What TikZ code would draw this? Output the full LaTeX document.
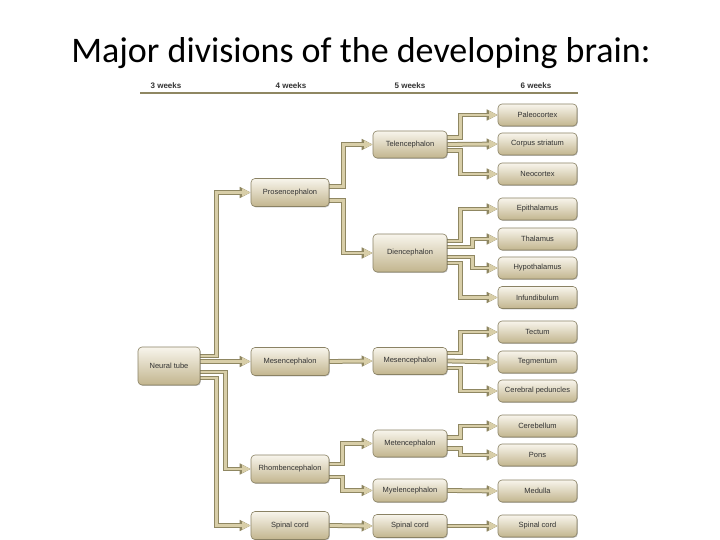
\documentclass[tikz,border=0pt]{standalone}
\usepackage{fontspec}
\setmainfont{Carlito}
\newfontfamily\boxfont{Liberation Sans}
\usetikzlibrary{arrows.meta,shadows,backgrounds}
\definecolor{bedge}{HTML}{8A8264}
\definecolor{btop}{HTML}{F8F5EC}
\definecolor{bbot}{HTML}{C2B58E}
\definecolor{cout}{HTML}{8F8762}
\definecolor{cin}{HTML}{D8CEA8}
\definecolor{txt}{HTML}{333333}
\begin{document}
\begin{tikzpicture}[x=1pt,y=-1pt,
  bx/.style={rectangle, rounded corners=4pt, draw=bedge, line width=0.6pt,
    top color=btop, bottom color=bbot, inner sep=0pt,
    font=\boxfont\fontsize{7.5}{8}\selectfont, text=txt,
    drop shadow={shadow xshift=0.8pt, shadow yshift=-0.8pt, fill=black, opacity=0.25}},
  c3/.style={bx, minimum width=62pt, minimum height=38pt},
  c4/.style={bx, minimum width=78pt, minimum height=28pt},
  c5/.style={bx, minimum width=74pt, minimum height=27pt},
  c6/.style={bx, minimum width=79pt, minimum height=22pt},
  hdr/.style={font=\boxfont\bfseries\fontsize{8}{9}\selectfont, text=txt},
  conn/.style={line width=2.8pt, draw=cin, line join=miter,
    -{Triangle[length=8.5pt,width=7.5pt]},
    preaction={draw=cout, line width=4.8pt, line join=miter,
      -{Triangle[length=11pt,width=10.5pt]}}}
]
\useasboundingbox (0,0) rectangle (720,540);

\node[font=\fontsize{36}{40}\selectfont, anchor=base] (title) at (361,63) {Major divisions of the developing brain:};

\node[hdr] (w3) at (166,86) {3 weeks};
\node[hdr] (w4) at (291,86) {4 weeks};
\node[hdr] (w5) at (410,86) {5 weeks};
\node[hdr] (w6) at (536,86) {6 weeks};
\coordinate (rl) at (140,93);
\coordinate (rr) at (578,93);
\draw[cout, line width=1.3pt] (rl) -- (rr);

% column 3
\node[c3] (nt) at (169,366) {Neural tube};
% column 4
\node[c4] (pros) at (290,192.5) {Prosencephalon};
\node[c4] (mes4) at (290,361.5) {Mesencephalon};
\node[c4] (rhomb) at (290,469) {Rhombencephalon};
\node[c4] (sc4) at (290,525.5) {Spinal cord};
% column 5
\node[c5] (tel) at (410,144.5) {Telencephalon};
\node[c5, minimum height=38pt] (dien) at (410,253) {Diencephalon};
\node[c5] (mes5) at (410,361) {Mesencephalon};
\node[c5] (met) at (410,443.5) {Metencephalon};
\node[c5, minimum height=23pt] (myel) at (410,490.5) {Myelencephalon};
\node[c5, minimum height=23pt] (sc5) at (410,526) {Spinal cord};
% column 6
\node[c6] (paleo) at (537.5,115) {Paleocortex};
\node[c6] (corp) at (537.5,144) {Corpus striatum};
\node[c6] (neo) at (537.5,174) {Neocortex};
\node[c6] (epi) at (537.5,209) {Epithalamus};
\node[c6] (thal) at (537.5,239) {Thalamus};
\node[c6] (hypo) at (537.5,268) {Hypothalamus};
\node[c6] (inf) at (537.5,297.5) {Infundibulum};
\node[c6] (tect) at (537.5,332) {Tectum};
\node[c6] (tegm) at (537.5,362) {Tegmentum};
\node[c6] (cped) at (537.5,391) {Cerebral peduncles};
\node[c6] (cbl) at (537.5,426) {Cerebellum};
\node[c6] (pons) at (537.5,455) {Pons};
\node[c6] (med) at (537.5,491) {Medulla};
\node[c6] (sc6) at (537.5,526) {Spinal cord};

\begin{scope}[on background layer]
\fill[white] (0,0) rectangle (720,540);
\draw[conn] ([yshift=10pt]nt.east) -- ++(16,0) |- (pros.west);
\draw[conn] (nt.east |- mes4.west) -- (mes4.west);
\draw[conn] ([yshift=-6pt]nt.east) -- ++(25,0) |- (rhomb.west);
\draw[conn] ([yshift=-12pt]nt.east) -- ++(16,0) |- (sc4.west);

\draw[conn] ([yshift=6pt]pros.east) -- ++(14,0) |- (tel.west);
\draw[conn] ([yshift=-8pt]pros.east) -- ++(14,0) |- (dien.west);
\draw[conn] (mes4.east) -- (mes5.west);
\draw[conn] ([yshift=5pt]rhomb.east) -- ++(13,0) |- (met.west);
\draw[conn] ([yshift=-8pt]rhomb.east) -- ++(13,0) |- (myel.west);
\draw[conn] (sc4.east) -- (sc5.west);

\draw[conn] ([yshift=7pt]tel.east) -- ++(13,0) |- (paleo.west);
\draw[conn] (tel.east) -- (corp.west);
\draw[conn] ([yshift=-6pt]tel.east) -- ++(13,0) |- (neo.west);
\draw[conn] ([yshift=12pt]dien.east) -- ++(13,0) |- (epi.west);
\draw[conn] ([yshift=6pt]dien.east) -- ++(25,0) |- (thal.west);
\draw[conn] ([yshift=-4pt]dien.east) -- ++(25,0) |- (hypo.west);
\draw[conn] ([yshift=-10pt]dien.east) -- ++(13,0) |- (inf.west);
\draw[conn] ([yshift=8pt]mes5.east) -- ++(13,0) |- (tect.west);
\draw[conn] (mes5.east) -- (tegm.west);
\draw[conn] ([yshift=-7pt]mes5.east) -- ++(13,0) |- (cped.west);
\draw[conn] ([yshift=6pt]met.east) -- ++(13,0) |- (cbl.west);
\draw[conn] ([yshift=-5pt]met.east) -- ++(13,0) |- (pons.west);
\draw[conn] (myel.east) -- (med.west);
\draw[conn] (sc5.east) -- (sc6.west);
\end{scope}
\end{tikzpicture}
\end{document}
